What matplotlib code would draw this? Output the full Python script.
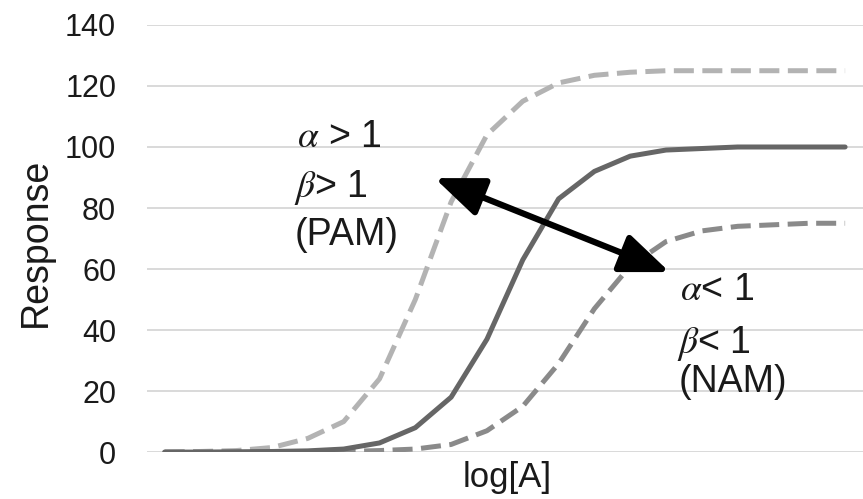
import numpy as np
import matplotlib.pyplot as plt
from matplotlib.patches import FancyArrowPatch

plt.rcParams['font.family'] = ['Liberation Sans', 'DejaVu Sans']
plt.rcParams['mathtext.fontset'] = 'stix'

# 20 evenly spaced log[A] categories (no tick labels shown)
dose_index = np.arange(20)
# response values
agonist_only = [0, 0, 0.1, 0.2, 0.4, 1, 3, 8, 18, 37, 63, 83, 92, 97, 99, 99.5, 100, 100, 100, 100]
pam = [0, 0.2, 0.5, 1.5, 4.5, 10, 24, 50, 82, 104, 115, 121, 123.5, 124.5, 125, 125, 125, 125, 125, 125]
nam = [0, 0, 0, 0, 0, 0.2, 0.5, 1, 2.5, 7, 15, 29, 47, 61, 69, 72.5, 74, 74.5, 75, 75]
y_ticks = [0, 20, 40, 60, 80, 100, 120, 140]

fig = plt.figure(figsize=(8.63, 4.99), dpi=100)
ax = fig.add_axes([0.170, 0.094, 0.830, 0.856])

ax.plot(dose_index, pam, color='#b3b3b3', lw=3.6, linestyle=(0, (4.0, 1.7)),
        solid_joinstyle='round', dash_capstyle='butt', zorder=3)
ax.plot(dose_index, nam, color='#8a8a8a', lw=3.6, linestyle=(0, (4.0, 1.7)),
        solid_joinstyle='round', dash_capstyle='butt', zorder=3)
ax.plot(dose_index, agonist_only, color='#666666', lw=3.6,
        solid_joinstyle='round', solid_capstyle='round', zorder=4)

ax.set_xlim(-0.5, 19.5)
ax.set_ylim(0, 140)
ax.set_yticks(y_ticks)
ax.set_xticks([])
ax.yaxis.grid(True, color='#d9d9d9', lw=1.4)
ax.set_axisbelow(True)
for s in ax.spines.values():
    s.set_visible(False)
ax.tick_params(axis='y', length=0, pad=22, labelsize=22, labelcolor='#1a1a1a')

ax.set_ylabel('Response', fontsize=27, color='#1a1a1a')
ax.yaxis.set_label_coords(-0.130, 0.49)
ax.set_xlabel('log[A]', fontsize=25, color='#1a1a1a')
ax.xaxis.set_label_coords(0.503, -0.022)
ax.xaxis.label.set_va('top')

arrow = FancyArrowPatch((7.54, 89.8), (14.1, 59.0),
                        arrowstyle='<|-|>,head_length=1.5,head_width=0.6',
                        mutation_scale=20, lw=4.5, color='black',
                        shrinkA=0, shrinkB=0, zorder=6)
ax.add_patch(arrow)

tk = dict(fontsize=27, color='#1a1a1a', va='baseline', ha='left', zorder=7)
ax.text(3.70, 100, r'$\alpha$ > 1', **tk)
ax.text(3.60, 83.6, r'$\beta$> 1', **tk)
ax.text(3.63, 67.9, '(PAM)', **tk)
ax.text(14.38, 49.8, r'$\alpha$< 1', **tk)
ax.text(14.30, 32.5, r'$\beta$< 1', **tk)
ax.text(14.36, 19.7, '(NAM)', **tk)

fig.savefig('out.png', dpi=100)
